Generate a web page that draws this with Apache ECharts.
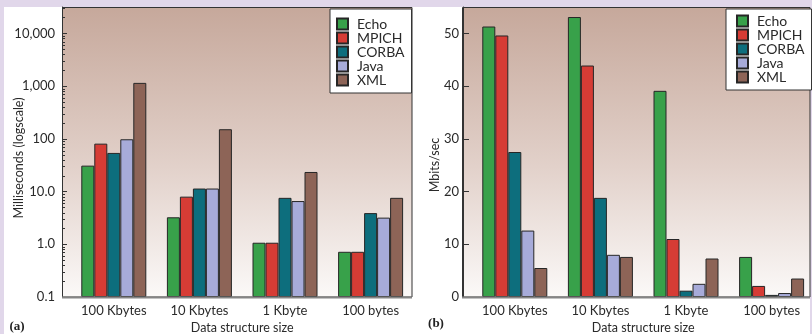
<!DOCTYPE html>
<html><head><meta charset="utf-8">
<script src="https://cdn.jsdelivr.net/npm/echarts@6/dist/echarts.min.js"></script>
<style>html,body{margin:0;padding:0;background:#e1d7ea}#c{width:812px;height:334px}</style>
</head><body><div id="c"></div>
<script>
// ---- data ----
const categories = ['100 Kbytes', '10 Kbytes', '1 Kbyte', '100 bytes'];
const seriesNames = ['Echo', 'MPICH', 'CORBA', 'Java', 'XML'];
// (a) latency, milliseconds (log scale)
const latencyEcho  = [31, 3.25, 1.07, 0.72];
const latencyMPICH = [81, 8.0, 1.07, 0.72];
const latencyCORBA = [54, 11.4, 7.6, 3.9];
const latencyJava  = [98, 11.4, 6.6, 3.2];
const latencyXML   = [1150, 152, 23.5, 7.6];
// (b) throughput, Mbits/sec
const throughputEcho  = [51.3, 53.1, 39.1, 7.6];
const throughputMPICH = [49.6, 43.9, 11.0, 2.1];
const throughputCORBA = [27.5, 18.8, 1.2, 0.4];
const throughputJava  = [12.6, 8.0, 2.5, 0.75];
const throughputXML   = [5.5, 7.6, 7.3, 3.5];
const latencyTickLabels = ['0.1', '1.0', '10.0', '100', '1,000', '10,000'];
const throughputTickLabels = ['0', '10', '20', '30', '40', '50'];

const latencyData = [latencyEcho, latencyMPICH, latencyCORBA, latencyJava, latencyXML];
const throughputData = [throughputEcho, throughputMPICH, throughputCORBA, throughputJava, throughputXML];
const colors = ['#38a14a', '#d63c35', '#0d6e7d', '#a7abd9', '#8d6457'];

// minor tick positions of the log axis (2..9 of each decade)
const minorTickValues = [];
[0.1, 1, 10, 100, 1000, 10000].forEach(d => {
  [2, 3, 4, 5, 6, 7, 8, 9].forEach(m => { if (m * d < 31000) minorTickValues.push(m * d); });
});

const FONT = 'Lato';
const TXT = '#2a2a2a';
const AX_OFFSET = 9;

const chart = echarts.init(document.getElementById('c'), null, {renderer: 'canvas'});

function barSeries(data, axisIdx) {
  return data.map((vals, i) => ({
    type: 'bar', name: seriesNames[i], xAxisIndex: axisIdx, yAxisIndex: axisIdx,
    data: vals, barWidth: 13, barGap: '0%',
    itemStyle: {color: colors[i], borderColor: '#262626', borderWidth: 1},
    emphasis: {disabled: true}
  }));
}

const plotGradient = {
  type: 'linear', x: 0, y: 0, x2: 0, y2: 1,
  colorStops: [{offset: 0, color: '#c6a89b'}, {offset: 0.55, color: '#e2d1ca'}, {offset: 1, color: '#fbf9f8'}]
};

function legendCfg(left, top, pad, gap) {
  return {
    data: seriesNames, orient: 'vertical', left: left, top: top,
    backgroundColor: '#ffffff', borderColor: '#333', borderWidth: 1, borderRadius: 0,
    padding: pad, itemGap: gap, itemWidth: 11, itemHeight: 11, icon: 'rect',
    selectedMode: false,
    textStyle: {fontFamily: FONT, fontSize: 14, color: TXT, lineHeight: 11, padding: [0, 0, 0, 4]}
  };
}

const option = {
  animation: false,
  backgroundColor: '#e1d7ea',
  graphic: [
    {type: 'rect', z: -20, shape: {x: 4, y: 7, width: 806, height: 327}, style: {fill: '#ffffff'}},
    {type: 'rect', z: -10, shape: {x: 62.5, y: 7.5, width: 349.5, height: 289.5}, style: {fill: plotGradient, stroke: '#333', lineWidth: 1}},
    {type: 'rect', z: -10, shape: {x: 462.5, y: 7.5, width: 347.5, height: 289.5}, style: {fill: plotGradient, stroke: '#333', lineWidth: 1}},
    {type: 'line', z: 50, shape: {x1: 62, y1: 297.5, x2: 412, y2: 297.5}, style: {stroke: '#858585', lineWidth: 2}},
    {type: 'line', z: 50, shape: {x1: 462, y1: 297.5, x2: 810, y2: 297.5}, style: {stroke: '#858585', lineWidth: 2}},
    {type: 'text', z: 50, x: 19, y: 158, rotation: Math.PI / 2,
      style: {text: 'Milliseconds (logscale)', font: '12.5px Lato', fill: TXT, align: 'center', verticalAlign: 'middle'}},
    {type: 'text', z: 50, x: 435, y: 165, rotation: Math.PI / 2,
      style: {text: 'Mbits/sec', font: '12.5px Lato', fill: TXT, align: 'center', verticalAlign: 'middle'}},
    {type: 'text', z: 50, x: 17, y: 327,
      style: {text: '(a)', font: 'bold 13px "Liberation Serif"', fill: '#222', align: 'center', verticalAlign: 'middle'}},
    {type: 'text', z: 50, x: 436, y: 324,
      style: {text: '(b)', font: 'bold 13px "Liberation Serif"', fill: '#222', align: 'center', verticalAlign: 'middle'}}
  ],
  grid: [
    {left: 71, top: 7, width: 342.4, height: 290, outerBoundsMode: 'none', containLabel: false},
    {left: 472, top: 7, width: 342.4, height: 290, outerBoundsMode: 'none', containLabel: false}
  ],
  legend: [
    legendCfg(330, 9, [8, 7, 6, 6], 0),
    legendCfg(726, 9, [5, 7, 6, 10], 0)
  ],
  xAxis: [0, 1].map(i => ({
    type: 'category', gridIndex: i, data: categories,
    axisLine: {show: false}, axisTick: {show: false},
    axisLabel: {fontFamily: FONT, fontSize: 13, color: TXT, margin: 7},
    name: 'Data structure size', nameLocation: 'middle', nameGap: 22,
    nameTextStyle: {fontFamily: FONT, fontSize: 12.5, color: TXT}
  })),
  yAxis: [
    {
      type: 'log', gridIndex: 0, logBase: 10, min: 0.1, max: 31623, startValue: 0.1, offset: AX_OFFSET,
      axisLine: {show: true, lineStyle: {color: '#333', width: 1}},
      axisTick: {show: true, inside: true, length: 5, lineStyle: {color: '#333'}},
      axisLabel: {
        fontFamily: FONT, fontSize: 13, color: TXT, margin: 7, showMaxLabel: false,
        formatter: v => latencyTickLabels[Math.round(Math.log10(v)) + 1] || ''
      },
      splitLine: {show: false}
    },
    {
      type: 'value', gridIndex: 1, min: 0, max: 55, interval: 10, offset: AX_OFFSET,
      axisLine: {show: true, lineStyle: {color: '#333', width: 1}},
      axisTick: {show: true, inside: true, length: 6, lineStyle: {color: '#333'}},
      axisLabel: {
        fontFamily: FONT, fontSize: 13, color: TXT, margin: 4, showMaxLabel: false,
        formatter: v => throughputTickLabels[Math.round(v / 10)] || ''
      },
      splitLine: {show: false}
    }
  ],
  series: [
    ...barSeries(latencyData, 0),
    ...barSeries(throughputData, 1),
    {
      type: 'custom', name: 'minorTicks', xAxisIndex: 0, yAxisIndex: 0, silent: true, z: 5,
      data: minorTickValues.map(v => [0, v]),
      renderItem: (params, api) => {
        const y = Math.round(api.coord([0, api.value(1)])[1]) + 0.5;
        const x = params.coordSys.x - AX_OFFSET;
        return {type: 'line', shape: {x1: x, y1: y, x2: x + 3, y2: y}, style: {stroke: '#333', lineWidth: 1}};
      }
    }
  ]
};
chart.setOption(option);
</script>
</body></html>
